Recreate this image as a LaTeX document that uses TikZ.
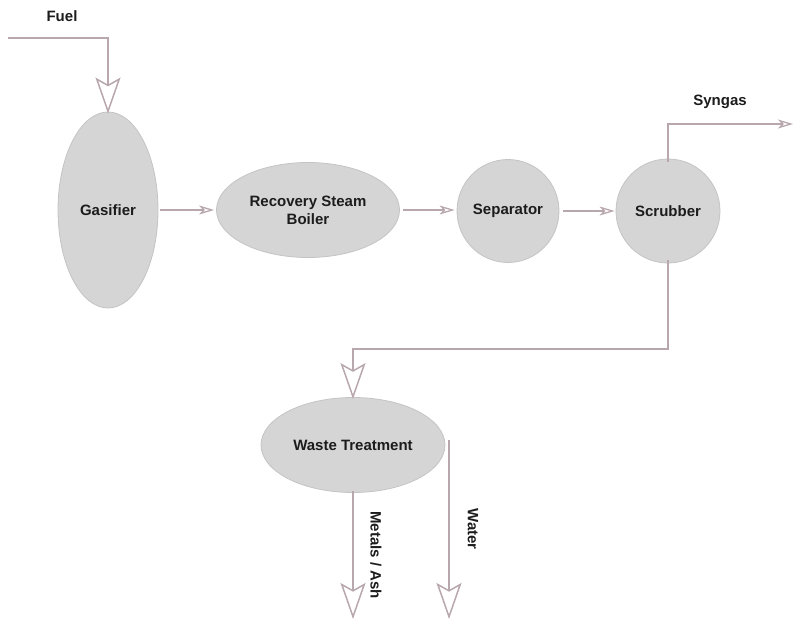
\documentclass[tikz,border=0pt]{standalone}
\usepackage{fontspec}
\setmainfont{Liberation Sans}
\usetikzlibrary{arrows.meta,shapes.geometric}
\definecolor{lineC}{RGB}{184,168,174}
\definecolor{fillC}{RGB}{213,213,213}
\definecolor{edgeC}{RGB}{196,196,196}
\definecolor{textC}{RGB}{28,28,28}
\tikzset{
  unit/.style={ellipse, draw=edgeC, fill=fillC, line width=0.8pt, inner sep=0pt,
    font=\bfseries\fontsize{15}{18}\selectfont, text=textC, align=center},
  flow/.style={draw=lineC, line width=1.5pt},
  bigarr/.style={-{Stealth[open, length=36pt, width=25pt, inset=7pt, line width=1.5pt]}},
  smallarr/.style={-{Stealth[open, length=15pt, width=9pt, inset=4pt, line width=1.3pt]}},
  lbl/.style={font=\bfseries\fontsize{15}{18}\selectfont, text=textC, inner sep=0pt},
}
\begin{document}
\begin{tikzpicture}[x=1pt,y=-1pt]
\useasboundingbox (0,0) rectangle (793,621);
\node[unit, minimum width=100pt, minimum height=196pt] (gas) at (108,210) {Gasifier};
\node[unit, minimum width=183pt, minimum height=95pt] (rsb) at (308,210) {Recovery Steam\\Boiler};
\node[unit, minimum width=102pt, minimum height=103pt] (sep) at (508,211) {Separator};
\node[unit, minimum width=104pt, minimum height=104pt] (scr) at (668,211) {Scrubber};
\node[unit, minimum width=184pt, minimum height=95pt] (wt) at (353,445) {Waste Treatment};

\coordinate (fuelin) at (8,38);
\coordinate (synout) at (793,124);
\coordinate (ashout) at (353,619);
\coordinate (watin) at (449,440);
\coordinate (watout) at (449,619);
\coordinate (bend) at (668,349);

\node[lbl] (fuel) at (62,16) {Fuel};
\node[lbl] (syn) at (720,102) {Syngas};
\node[lbl, rotate=-90] (ash) at (376,555) {Metals / Ash};
\node[lbl, rotate=-90] (wat) at (473,529) {Water};

\draw[flow, bigarr] (fuelin) -| ([yshift=-2pt]gas.north);
\draw[flow, smallarr] ([xshift=2pt]gas.east) -- ([xshift=-2pt]gas.east -| rsb.west);
\draw[flow, smallarr] ([xshift=3pt]rsb.east) -- ([xshift=-2pt]rsb.east -| sep.west);
\draw[flow, smallarr] ([xshift=4pt]sep.east) -- ([xshift=-1pt]scr.west);
\draw[flow, smallarr] ([yshift=-3pt]scr.north) |- (synout);
\draw[flow, bigarr] ([yshift=3pt]scr.south) -- (bend) -| ([yshift=-2pt]wt.north);
\draw[flow, bigarr] ([yshift=2pt]wt.south) -- (ashout);
\draw[flow, bigarr] (watin) -- (watout);
\end{tikzpicture}
\end{document}
